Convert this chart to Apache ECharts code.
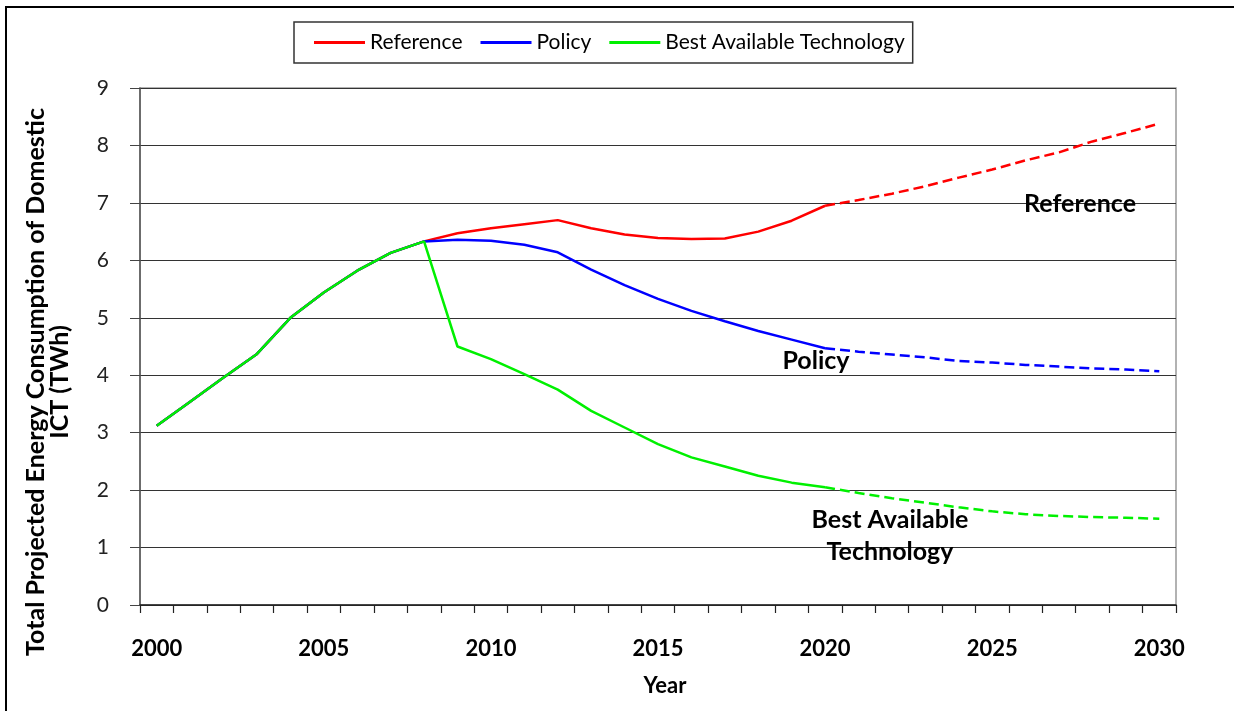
<!DOCTYPE html>
<html>
<head>
<meta charset="utf-8">
<script src="https://cdn.jsdelivr.net/npm/echarts@6/dist/echarts.min.js"></script>
<style>
  html, body { margin: 0; padding: 0; background: #fff; }
  #main { width: 1234px; height: 711px; }
</style>
</head>
<body>
<div id="main"></div>
<script>
// years on the category axis
const years = []
for (let y = 2000; y <= 2030; y++) years.push(String(y))

// shared history 2000-2008
const history = [3.12, 3.54, 3.96, 4.37, 5.0, 5.44, 5.82, 6.13, 6.33]

// 2009-2020 (solid part)
const refSolid = [6.47, 6.56, 6.63, 6.70, 6.56, 6.45, 6.39, 6.37, 6.38, 6.50, 6.69, 6.95]
const policySolid = [6.36, 6.34, 6.27, 6.14, 5.84, 5.57, 5.33, 5.12, 4.94, 4.77, 4.62, 4.47]
const batSolid = [4.50, 4.28, 4.02, 3.75, 3.38, 3.09, 2.80, 2.57, 2.41, 2.25, 2.13, 2.05]

// 2021-2030 (dashed projection)
const refProj = [7.05, 7.16, 7.29, 7.44, 7.58, 7.74, 7.88, 8.07, 8.22, 8.38]
const policyProj = [4.41, 4.36, 4.31, 4.25, 4.22, 4.18, 4.15, 4.12, 4.10, 4.07]
const batProj = [1.95, 1.86, 1.78, 1.70, 1.63, 1.58, 1.55, 1.53, 1.52, 1.50]

const yTicks = [0, 1, 2, 3, 4, 5, 6, 7, 8, 9]

const FONT = 'Lato'

function solid (part) {
  const d = history.concat(part)
  while (d.length < years.length) d.push(null)
  return d
}
function dashed (part, proj) {
  const d = []
  for (let i = 0; i < history.length + part.length - 1; i++) d.push(null)
  d.push(part[part.length - 1])
  return d.concat(proj)
}

function lineSeries (name, color, data, type) {
  return {
    name: name,
    type: 'line',
    data: data,
    symbol: 'none',
    connectNulls: false,
    lineStyle: { color: color, width: 2.5, type: type },
    itemStyle: { color: color },
  }
}

function note (text, x, y) {
  return {
    type: 'text', x: x, y: y, z: 100,
    style: {
      text: text, fontFamily: FONT, fontSize: 25, fontWeight: 'bold', fill: '#000',
      align: 'center', verticalAlign: 'middle', lineHeight: 32,
    },
  }
}

const chart = echarts.init(document.getElementById('main'))
chart.setOption({
  animation: false,
  backgroundColor: '#fff',
  textStyle: { fontFamily: FONT },
  legend: {
    data: ['Reference', 'Policy', 'Best Available Technology'],
    left: 294,
    top: 22,
    padding: [10, 8, 10, 20],
    itemGap: 18,
    itemWidth: 51,
    itemHeight: 3,
    icon: 'rect',
    borderColor: '#333',
    borderWidth: 1.5,
    textStyle: { fontSize: 21, color: '#000', fontFamily: FONT },
  },
  grid: {
    left: 140,
    right: 58,
    top: 88,
    bottom: 106,
    show: true,
    borderColor: '#999',
    borderWidth: 1.5,
  },
  xAxis: {
    type: 'category',
    data: years,
    boundaryGap: true,
    name: 'Year',
    nameLocation: 'middle',
    nameGap: 70,
    nameTextStyle: { fontSize: 22, fontWeight: 'bold', color: '#000', padding: [0, 0, 0, 14] },
    axisLine: { lineStyle: { color: '#222', width: 1.5 } },
    axisTick: { show: true, interval: 0, length: 8, lineStyle: { color: '#222', width: 1.2 } },
    axisLabel: { interval: 4, margin: 33, fontSize: 22, fontWeight: 'bold', color: '#000' },
    splitLine: { show: false },
  },
  yAxis: {
    type: 'value',
    min: yTicks[0],
    max: yTicks[yTicks.length - 1],
    interval: 1,
    axisLine: { show: true, lineStyle: { color: '#555', width: 1.5 } },
    axisTick: { show: true, length: 10, lineStyle: { color: '#444' } },
    axisLabel: { margin: 31, fontSize: 21, color: '#222' },
    splitLine: { lineStyle: { color: '#333', width: 1.2 } },
  },
  series: [
    lineSeries('Reference', '#ff0000', solid(refSolid), 'solid'),
    lineSeries('Policy', '#0000ff', solid(policySolid), 'solid'),
    lineSeries('Best Available Technology', '#00f000', solid(batSolid), 'solid'),
    lineSeries('Reference', '#ff0000', dashed(refSolid, refProj), [10, 5]),
    lineSeries('Policy', '#0000ff', dashed(policySolid, policyProj), [10, 5]),
    lineSeries('Best Available Technology', '#00f000', dashed(batSolid, batProj), [10, 5]),
  ],
  graphic: [
    {
      type: 'rect',
      shape: { x: 6, y: 7, width: 1300, height: 800 },
      style: { fill: 'none', stroke: '#000', lineWidth: 2 },
      silent: true,
    },
    {
      type: 'text',
      x: 48,
      y: 382,
      rotation: Math.PI / 2,
      z: 100,
      style: {
        text: 'Total Projected Energy Consumption of Domestic\nICT (TWh)',
        fontFamily: FONT,
        fontSize: 25,
        fontWeight: 'bold',
        fill: '#000',
        align: 'center',
        verticalAlign: 'middle',
        lineHeight: 24,
      },
    },
    note('Reference', 1080, 204),
    note('Policy', 816, 361),
    note('Best Available\nTechnology', 890, 536),
  ],
})
</script>
</body>
</html>
